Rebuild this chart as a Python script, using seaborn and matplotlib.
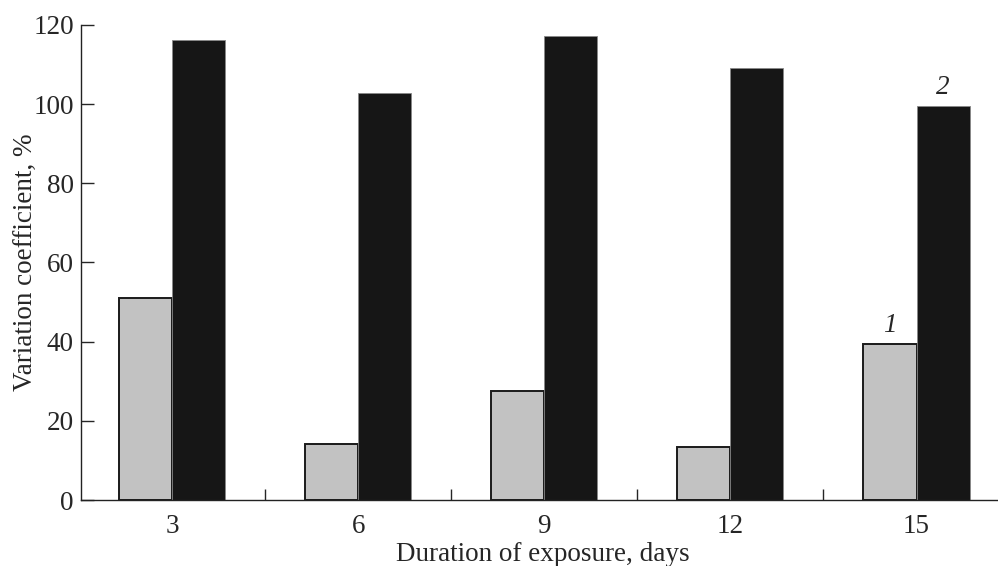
import numpy as np
import pandas as pd
import seaborn as sns
import matplotlib.pyplot as plt
from matplotlib.ticker import FixedLocator

# data
days = ['3', '6', '9', '12', '15']
series1 = [51.0, 14.2, 27.5, 13.3, 39.5]
series2 = [116.1, 102.9, 117.2, 109.0, 99.6]
series_names = ['1', '2']

df = pd.DataFrame({
    'day': days * 2,
    'value': series1 + series2,
    'series': [series_names[0]] * len(days) + [series_names[1]] * len(days),
})

sns.set_style('ticks')
plt.rcParams['font.family'] = ['Liberation Serif', 'DejaVu Serif']
plt.rcParams['font.size'] = 19.5

fig = plt.figure(figsize=(9.98, 5.66), dpi=100)
ax = fig.add_axes([0.081, 0.1166, 0.925, 0.8394])

sns.barplot(data=df, x='day', y='value', hue='series', order=days,
            hue_order=series_names, palette=['#c2c2c2', '#161616'],
            width=0.57, gap=0, legend=False, ax=ax, saturation=1)

# edges: dark outline on grey bars, thin grey outline on black bars
for cont, ec, lw in zip(ax.containers, ['#1a1a1a', '#888888'], [1.4, 0.6]):
    for p in cont:
        p.set_edgecolor(ec)
        p.set_linewidth(lw)

# curve labels above the last group
last1 = ax.containers[0][-1]
last2 = ax.containers[1][-1]
ax.text(last1.get_x() + last1.get_width() / 2, series1[-1] + 1.5, '1',
        ha='center', va='bottom', style='italic', fontsize=19.5)
ax.text(last2.get_x() + last2.get_width() / 2, series2[-1] + 1.5, '2',
        ha='center', va='bottom', style='italic', fontsize=19.5)

ax.set_xlim(-0.49, 4.47)
ax.set_ylim(0, 120)
ax.set_yticks([0, 20, 40, 60, 80, 100, 120])
ax.xaxis.set_minor_locator(FixedLocator([0.5, 1.5, 2.5, 3.5]))
ax.tick_params(axis='x', which='major', length=0, pad=10)
ax.tick_params(axis='x', which='minor', direction='in', length=8, width=1)
ax.tick_params(axis='y', direction='in', length=9, width=1, pad=5)

ax.set_xlabel('Duration of exposure, days', labelpad=2)
ax.set_ylabel('Variation coefficient, %', labelpad=-4)

sns.despine(ax=ax)
for s in ['left', 'bottom']:
    ax.spines[s].set_linewidth(1)
    ax.spines[s].set_color('#222222')

fig.savefig('out.png', dpi=100)
